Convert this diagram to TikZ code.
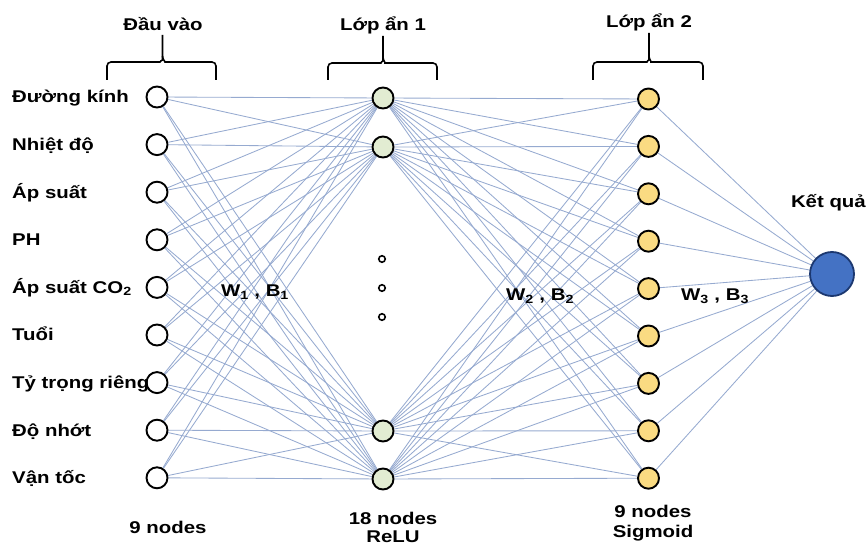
\documentclass[tikz,border=0pt]{standalone}
\usepackage{fontspec}
\setmainfont{Liberation Sans}[FakeStretch=1.2]
\usetikzlibrary{backgrounds}
\definecolor{edgec}{RGB}{150,170,208}
\definecolor{hgreen}{RGB}{226,236,210}
\definecolor{hyellow}{RGB}{250,219,130}
\definecolor{outblue}{RGB}{68,114,196}
\definecolor{outedge}{RGB}{28,56,112}
\begin{document}
\begin{tikzpicture}[x=1pt,y=-1pt,
  lbl/.style={font=\fontsize{17}{20}\selectfont\bfseries, inner sep=0pt},
  neuron/.style={circle, draw=black, line width=1.9pt, minimum size=21pt, inner sep=0pt},
  innode/.style={neuron, fill=white},
  hanode/.style={neuron, fill=hgreen},
  hbnode/.style={neuron, fill=hyellow},
  outnode/.style={circle, draw=outedge, line width=1.8pt, fill=outblue, minimum size=44pt, inner sep=0pt},
  link/.style={draw=edgec, line width=0.85pt},
  bracket/.style={draw=black, line width=1.6pt, rounded corners=4pt},
  vdot/.style={circle, draw=black, line width=1.6pt, minimum size=6.5pt, inner sep=0pt}]
\useasboundingbox (0,0) rectangle (868,545);

% input layer
\foreach \k/\t in {1/{Đường kính},2/{Nhiệt độ},3/{Áp suất},4/{PH},5/{Áp suất CO\textsubscript{2}},6/{Tuổi},7/{Tỷ trọng riêng},8/{Độ nhớt},9/{Vận tốc}}{
  \pgfmathsetmacro{\yy}{97+47.6*(\k-1)}
  \node[innode] (i\k) at (157,\yy) {};
  \node[lbl, anchor=base west] (l\k) at (12,\yy+6) {\t};
}
% hidden layer 1
\node[hanode] (a1) at (383,98) {};
\node[hanode] (a2) at (383,147) {};
\node[hanode] (a3) at (383,431) {};
\node[hanode] (a4) at (383,479) {};
\node[vdot] (d1) at (382,259) {};
\node[vdot] (d2) at (382,288) {};
\node[vdot] (d3) at (382,317) {};
% hidden layer 2
\foreach \k in {1,...,9}{
  \pgfmathsetmacro{\yy}{99+47.4*(\k-1)}
  \node[hbnode] (b\k) at (648.5,\yy) {};
}
% output
\node[outnode] (o) at (832,274) {};

% connections
\begin{scope}[on background layer]
  \foreach \i in {1,...,9}{
    \foreach \j in {1,...,4}{
      \draw[link] (i\i) -- (a\j);
    }
  }
  \foreach \i in {1,...,4}{
    \foreach \j in {1,...,9}{
      \draw[link] (a\i) -- (b\j);
    }
  }
  \foreach \j in {1,...,9}{
    \draw[link] (b\j) -- (o);
  }
\end{scope}

% brackets
\draw[bracket] (107,80) -- (107,62) -- (156,62) to[out=0,in=-90] (162.5,56) -- (162.5,35);
\draw[bracket] (162.5,56) to[out=-90,in=180] (169,62) -- (216,62) -- (216,80);
\draw[bracket] (328,80) -- (328,63) -- (377,63) to[out=0,in=-90] (383,57) -- (383,36);
\draw[bracket] (383,57) to[out=-90,in=180] (389,63) -- (437,63) -- (437,80);
\draw[bracket] (593,80) -- (593,62) -- (643,62) to[out=0,in=-90] (649,56) -- (649,33);
\draw[bracket] (649,56) to[out=-90,in=180] (655,62) -- (703,62) -- (703,80);

% titles
\node[lbl, anchor=base] (t1) at (163,31) {Đầu vào};
\node[lbl, anchor=base] (t2) at (383,31) {Lớp ẩn 1};
\node[lbl, anchor=base] (t3) at (649,28) {Lớp ẩn 2};
\node[lbl, anchor=base east] (t4) at (866,208) {Kết quả};

% weights
\node[lbl] (w1) at (255,292) {W\textsubscript{1} , B\textsubscript{1}};
\node[lbl] (w2) at (540,296) {W\textsubscript{2} , B\textsubscript{2}};
\node[lbl] (w3) at (715,296) {W\textsubscript{3} , B\textsubscript{3}};

% bottom labels
\node[lbl, anchor=base] (n1) at (168,533) {9 nodes};
\node[lbl, anchor=base] (n2) at (393,524) {18 nodes};
\node[lbl, anchor=base] (n2b) at (393,542) {ReLU};
\node[lbl, anchor=base] (n3) at (653,517) {9 nodes};
\node[lbl, anchor=base] (n3b) at (653,537) {Sigmoid};
\end{tikzpicture}
\end{document}
